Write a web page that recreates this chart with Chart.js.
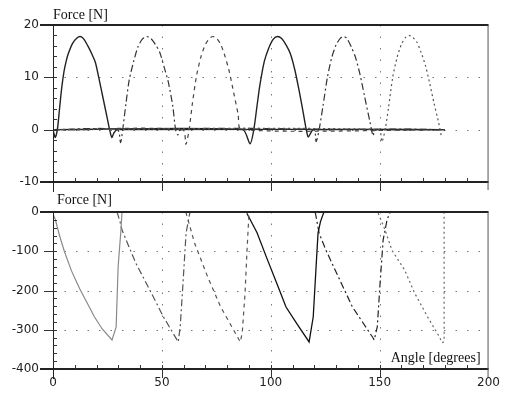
<!DOCTYPE html>
<html lang="en">
<head>
<meta charset="UTF-8">
<title>Leg forces over crank angle</title>
<script src="https://cdn.jsdelivr.net/npm/chart.js"></script>
<style>
    body {
        margin: 0;
        background: #fff;
    }
    .panel {
        position: absolute;
        left: 0;
        width: 507px;
    }
    #liftBox { top: 0; height: 209px; }
    #pushBox { top: 186px; height: 210px; }
</style>
</head>
<body>

<div class="panel" id="liftBox"><canvas id="liftChart"></canvas></div>
<div class="panel" id="pushBox"><canvas id="pushChart"></canvas></div>

<script>
// upper panel: lift force of each leg [N] against angle [degrees]
const liftAngle1 = [0, 1, 2, 3, 4, 5, 6, 7, 9, 11, 12.5, 14, 16, 18, 19.5, 21, 23, 25, 26, 27, 28, 29.5, 180];
const liftForce1 = [0, -1.5, 0, 4, 8, 11, 13, 14.5, 16.5, 17.5, 17.8, 17.4, 16, 14.3, 12.8, 10, 6, 2, 0, -1.5, -0.6, 0, 0];
const liftAngle2 = [0, 29.5, 31, 32, 33.5, 35, 37, 39, 41, 43, 45, 47, 49, 51, 53, 55, 56.3, 57.3, 58.5, 180];
const liftForce2 = [0, 0, -2.5, 0, 5, 9.5, 13, 15.8, 17.3, 17.8, 17.4, 16.3, 14.8, 12, 9, 4.5, 0, -1, 0, 0];
const liftAngle3 = [0, 59.5, 61, 62.5, 64, 66, 68, 70, 72, 73.5, 75, 77, 79, 81, 83, 85, 86.5, 180];
const liftForce3 = [0, 0, -2.8, 0, 5, 10.5, 14, 16.3, 17.5, 17.8, 17.5, 16.3, 14, 11, 7, 3, 0, 0];
const liftAngle4 = [0, 87, 90.5, 92.2, 93.7, 95, 97, 99, 101, 103, 105, 107, 109, 111, 113, 115, 116.3, 117.2, 118.5, 119.5, 180];
const liftForce4 = [0, 0, -2.7, 0, 4.6, 8.5, 13, 15.5, 17.2, 17.8, 17.4, 16.2, 14.5, 11.5, 7.5, 3, 0, -1.4, -0.5, 0, 0];
const liftAngle5 = [0, 119.5, 120.8, 122.2, 124, 126, 128, 130, 132, 133.5, 135, 137, 139, 141, 143, 145.7, 147, 148, 180];
const liftForce5 = [0, 0, -2.3, 0, 4.6, 10, 13.8, 16.2, 17.5, 17.8, 17.4, 15.8, 13.7, 10.5, 6.5, 1.2, -1.2, 0, 0];
const liftAngle6 = [0, 149.5, 151, 152.5, 154, 156, 158, 160, 162, 163.5, 165, 167, 169, 171, 173, 175, 177, 178.3];
const liftForce6 = [0, 0, -2.3, 0, 4, 10, 13.8, 16.3, 17.7, 18, 17.7, 16.8, 14.8, 12.3, 8.8, 5, 1.5, -1.2];

// lower panel: push force of each leg [N] against angle [degrees]
const pushAngle1 = [0, 1, 3, 5.2, 8.5, 12.2, 16, 19, 22.6, 27.1, 29, 29.9, 31.2, 31.7];
const pushForce1 = [-5, -18, -60, -100, -150, -195, -235, -267, -298, -326, -293, -140, -46, 0];
const pushAngle2 = [29.4, 30.8, 31.7, 35, 38, 44, 50.7, 57.5, 58.4, 59.7, 61.1, 62.9];
const pushForce2 = [0, -25, -46, -90, -130, -194, -267, -331, -293, -181, -54, 0];
const pushAngle3 = [61, 62, 65, 71, 77, 86, 86.9, 88.2, 89.1, 90];
const pushForce3 = [0, -20, -79, -165, -242, -331, -308, -206, -97, -3];
const pushAngle4 = [89, 93.7, 98, 102.7, 107, 111.8, 117.6, 119.5, 120.8, 121.7, 122.8, 124.4];
const pushForce4 = [-3, -53, -115, -181, -242, -283, -331, -267, -140, -54, -25, 0];
const pushAngle5 = [120.4, 122.2, 125.3, 131, 137.5, 147, 147.5, 148.9, 150.2, 151.6, 153.4, 154.8];
const pushForce5 = [0, -54, -97, -165, -242, -321, -326, -293, -181, -71, -20, 0];
const pushAngle6 = [149.3, 152.5, 155.6, 161.5, 166, 172, 177.4, 178.7, 179.6, 179.6];
const pushForce6 = [-3, -46, -97, -148, -206, -267, -318, -333, -330, 0];

// dotted grid positions
const gridAngles = [50, 100, 150];
const liftGrid = [0, 10];
const pushGrid = [-100, -200, -300];

function series(xs, ys, color, dash, width, tension) {
    return {
        data: xs.map((v, i) => ({ x: v, y: ys[i] })),
        borderColor: color,
        borderDash: dash,
        borderWidth: width,
        pointRadius: 0,
        tension: tension,
        fill: false
    };
}

const DASHDOT = [7, 3, 2, 3];
const DASHED = [4, 4];
const DOTTED = [2, 3];

// frame, inward ticks, dotted grid and the axis captions of the old plot
const panelFrame = {
    id: 'panelFrame',
    beforeDatasetsDraw(chart, args, o) {
        const { ctx, chartArea: a, scales: { x, y } } = chart;
        ctx.save();
        ctx.strokeStyle = '#777';
        ctx.lineWidth = 1;
        ctx.setLineDash([1.5, 10]);
        ctx.beginPath();
        o.gridY.forEach(v => {
            const py = Math.round(y.getPixelForValue(v)) + 0.5;
            ctx.moveTo(a.left, py);
            ctx.lineTo(a.right, py);
        });
        gridAngles.forEach(v => {
            const px = Math.round(x.getPixelForValue(v)) + 0.5;
            ctx.moveTo(px, a.top);
            ctx.lineTo(px, a.bottom);
        });
        ctx.stroke();
        ctx.restore();
    },
    afterDraw(chart, args, o) {
        const { ctx, chartArea: a, scales: { x, y } } = chart;
        ctx.save();
        ctx.strokeStyle = '#222';
        ctx.lineWidth = 2;
        ctx.beginPath();
        ctx.moveTo(a.left - 13, a.top);
        ctx.lineTo(a.right, a.top);
        ctx.moveTo(a.left - 13, a.bottom);
        ctx.lineTo(a.right, a.bottom);
        ctx.stroke();

        ctx.lineWidth = 1;
        ctx.beginPath();
        ctx.moveTo(a.left + 0.5, a.top);
        ctx.lineTo(a.left + 0.5, a.bottom + 10);
        ctx.stroke();
        ctx.strokeStyle = '#555';
        ctx.beginPath();
        ctx.moveTo(a.right - 0.5, a.top);
        ctx.lineTo(a.right - 0.5, a.bottom + 8);
        ctx.stroke();

        ctx.strokeStyle = '#333';
        ctx.beginPath();
        for (let v = y.min + o.minorY; v < y.max; v += o.minorY) {
            const py = Math.round(y.getPixelForValue(v)) + 0.5;
            ctx.moveTo(a.left, py);
            ctx.lineTo(a.left + 4, py);
        }
        for (let v = y.min + o.majorY; v < y.max; v += o.majorY) {
            const py = Math.round(y.getPixelForValue(v)) + 0.5;
            ctx.moveTo(a.left - 9, py);
            ctx.lineTo(a.left, py);
        }
        for (let v = 10; v < 200; v += 10) {
            const px = Math.round(x.getPixelForValue(v)) + 0.5;
            ctx.moveTo(px, a.bottom - 4);
            ctx.lineTo(px, v % 50 ? a.bottom : a.bottom + 9);
        }
        ctx.stroke();

        ctx.fillStyle = '#111';
        ctx.font = '14px "Liberation Serif"';
        ctx.textAlign = 'left';
        ctx.textBaseline = 'alphabetic';
        ctx.fillText(o.title, o.titleX, o.titleY);
        if (o.note) {
            ctx.textAlign = 'right';
            ctx.fillText(o.note, a.right - 8, a.bottom - 7);
        }
        ctx.restore();
    }
};

// both panels share the same box sizes, only the lower one shows angle labels
function panelOptions(yMin, yMax, yStep, angleColor, topPad, frameOpts) {
    const tickFont = { family: 'DejaVu Sans', size: 12 };
    return {
        responsive: true,
        maintainAspectRatio: false,
        animation: false,
        devicePixelRatio: 1,
        layout: { padding: { top: topPad, right: 12, left: 0, bottom: 0 } },
        plugins: {
            legend: { display: false },
            tooltip: { enabled: false },
            panelFrame: frameOpts
        },
        scales: {
            x: {
                type: 'linear',
                min: 0,
                max: 200,
                grid: { display: false, drawTicks: false },
                border: { display: false },
                ticks: { stepSize: 50, padding: 7, color: angleColor, font: tickFont },
                afterFit: s => { s.height = 27; }
            },
            y: {
                min: yMin,
                max: yMax,
                grid: { display: false, drawTicks: false },
                border: { display: false },
                ticks: { stepSize: yStep, padding: 14, color: '#222', font: tickFont },
                afterFit: s => { s.width = 53; }
            }
        }
    };
}

new Chart(document.getElementById('liftChart'), {
    type: 'line',
    data: {
        datasets: [
            series(liftAngle6, liftForce6, '#555', DOTTED, 1.2, 0.25),
            series(liftAngle5, liftForce5, '#333', DASHDOT, 1.2, 0.25),
            series(liftAngle3, liftForce3, '#444', DASHED, 1.2, 0.25),
            series(liftAngle2, liftForce2, '#333', DASHDOT, 1.2, 0.25),
            series(liftAngle4, liftForce4, '#222', [], 1.4, 0.25),
            series(liftAngle1, liftForce1, '#222', [], 1.4, 0.25)
        ]
    },
    options: panelOptions(-10, 20, 10, 'rgba(0,0,0,0)', 25,
        { gridY: liftGrid, minorY: 2, majorY: 10, title: 'Force [N]', titleX: 53, titleY: 19 }),
    plugins: [panelFrame]
});

new Chart(document.getElementById('pushChart'), {
    type: 'line',
    data: {
        datasets: [
            series(pushAngle1, pushForce1, '#8a8a8a', [], 1.2, 0),
            series(pushAngle2, pushForce2, '#555', DASHDOT, 1.2, 0),
            series(pushAngle3, pushForce3, '#555', DASHED, 1.2, 0),
            series(pushAngle4, pushForce4, '#111', [], 1.3, 0),
            series(pushAngle5, pushForce5, '#222', DASHDOT, 1.2, 0),
            series(pushAngle6, pushForce6, '#666', DOTTED, 1.2, 0)
        ]
    },
    options: panelOptions(-400, 0, 100, '#222', 26,
        { gridY: pushGrid, minorY: 20, majorY: 100, title: 'Force [N]', titleX: 57, titleY: 18, note: 'Angle [degrees]' }),
    plugins: [panelFrame]
});
</script>

</body>
</html>
